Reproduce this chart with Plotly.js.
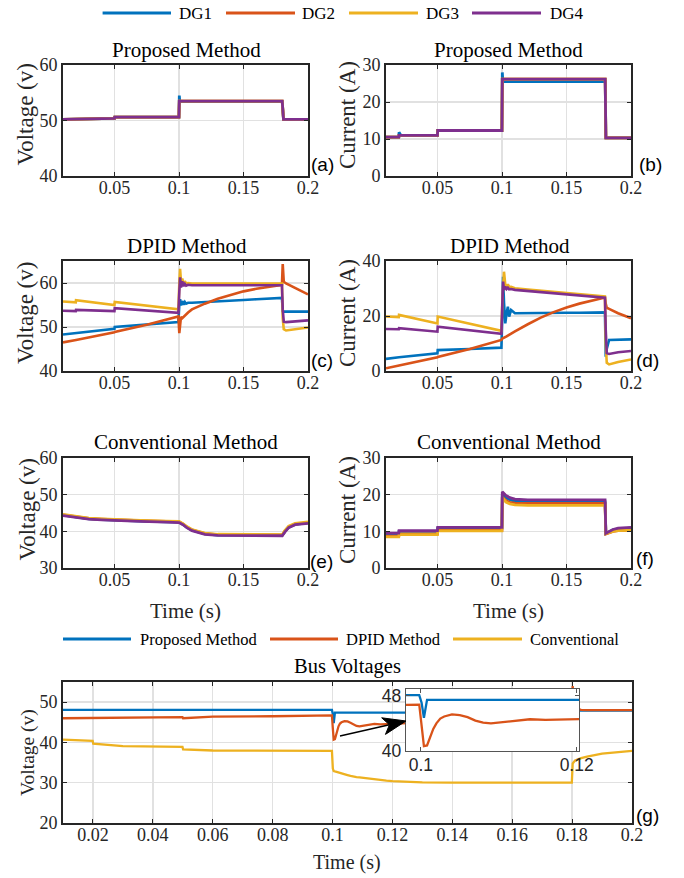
<!DOCTYPE html>
<html><head><meta charset="utf-8">
<script src="https://cdn.plot.ly/plotly-3.0.1.min.js"></script>
<style>html,body{margin:0;padding:0;background:#fff;} #chart{width:684px;height:878px;}</style>
</head><body><div id="chart"></div>
<script>
// ---------- DATA ----------
const dgNames = ['DG1', 'DG2', 'DG3', 'DG4'];
const busNames = ['Proposed Method', 'DPID Method', 'Conventional'];

// (a) Proposed method - voltage
const tA = [0.01, 0.0499, 0.0501, 0.0999, 0.1002, 0.1006, 0.101, 0.18, 0.181, 0.2];
const aDG1 = [50.2, 50.4, 50.6, 50.6, 54.5, 53.3, 53.4, 53.4, 50.2, 50.2];
const aDG2 = [50.2, 50.4, 50.6, 50.6, 53.5, 53.5, 53.5, 53.5, 50.2, 50.2];
const aDG3 = [50.2, 50.4, 50.6, 50.6, 53.5, 53.5, 53.5, 53.5, 50.2, 50.2];
const aDG4 = [50.2, 50.4, 50.6, 50.6, 53.5, 53.5, 53.5, 53.5, 50.2, 50.2];

// (b) Proposed method - current
const tB = [0.01, 0.0199, 0.0201, 0.0215, 0.0499, 0.0501, 0.0999, 0.1002, 0.1006, 0.101, 0.18, 0.1805, 0.2];
const bDG1 = [10.5, 10.5, 11.8, 11.0, 11.0, 12.3, 12.3, 28.0, 25.6, 25.5, 25.5, 10.3, 10.3];
const bDG2 = [10.5, 10.5, 11.0, 11.0, 11.0, 12.3, 12.3, 26.2, 26.2, 26.2, 26.2, 10.3, 10.3];
const bDG3 = [10.5, 10.5, 11.0, 11.0, 11.0, 12.3, 12.3, 26.2, 26.2, 26.2, 26.2, 10.3, 10.3];
const bDG4 = [10.5, 10.5, 11.0, 11.0, 11.0, 12.3, 12.3, 26.2, 26.2, 26.2, 26.2, 10.3, 10.3];

// (c) DPID method - voltage
const tC = [0.01, 0.0199, 0.0201, 0.0499, 0.0501, 0.075, 0.0995, 0.1002, 0.1008, 0.1015, 0.1025, 0.1035, 0.1045, 0.1055, 0.107, 0.11, 0.12, 0.13, 0.14, 0.15, 0.16, 0.17, 0.1798, 0.1804, 0.1812, 0.183, 0.19, 0.2];
const cDG1 = [48.3, 48.6, 48.7, 49.6, 50.0, 50.5, 51.1, 55.0, 56.3, 54.9, 55.9, 55.1, 55.7, 55.3, 55.5, 55.5, 55.7, 55.85, 56.0, 56.15, 56.3, 56.45, 56.6, 53.6, 53.5, 53.5, 53.5, 53.5];
const cDG2 = [46.5, 47.0, 47.05, 48.8, 48.85, 50.5, 52.4, 48.6, 50.5, 52.3, 52.0, 52.3, 52.6, 52.9, 53.3, 54.0, 55.3, 56.4, 57.3, 58.1, 58.7, 59.2, 59.6, 64.3, 60.3, 59.9, 58.8, 57.4];
const cDG3 = [55.8, 55.6, 56.1, 55.0, 55.7, 54.9, 54.0, 60.0, 63.2, 60.3, 61.0, 59.8, 60.4, 59.9, 60.0, 59.9, 59.9, 59.9, 59.9, 59.9, 59.9, 59.9, 59.9, 52.0, 49.5, 49.2, 49.5, 49.9];
const cDG4 = [53.7, 53.6, 53.9, 53.6, 54.3, 53.8, 53.2, 58.0, 61.3, 59.0, 60.4, 59.3, 59.8, 59.4, 59.6, 59.5, 59.5, 59.5, 59.5, 59.5, 59.5, 59.5, 59.5, 54.0, 51.2, 51.1, 51.3, 51.5];

// (d) DPID method - current
const tD = [0.01, 0.0199, 0.0201, 0.0499, 0.0501, 0.075, 0.0995, 0.1002, 0.1008, 0.1015, 0.1025, 0.1035, 0.1045, 0.1055, 0.107, 0.11, 0.12, 0.13, 0.14, 0.15, 0.16, 0.17, 0.1798, 0.1804, 0.1812, 0.183, 0.19, 0.2];
const dDG1 = [4.4, 4.8, 5.0, 6.4, 7.6, 8.0, 8.5, 20.0, 34.3, 25.0, 17.3, 21.0, 23.4, 19.8, 22.2, 21.0, 21.1, 21.1, 21.2, 21.2, 21.2, 21.3, 21.3, 5.2, 8.0, 11.3, 11.4, 11.5];
const dDG2 = [1.0, 1.9, 2.0, 5.0, 5.1, 8.0, 11.3, 11.8, 12.0, 12.1, 12.3, 12.6, 12.9, 13.2, 13.6, 14.4, 17.0, 19.4, 21.4, 23.1, 24.5, 25.7, 26.7, 24.5, 23.0, 22.6, 21.0, 19.2];
const dDG3 = [19.8, 19.6, 20.4, 17.3, 19.8, 17.1, 14.6, 25.0, 34.0, 36.1, 31.3, 30.6, 31.5, 30.5, 30.6, 30.1, 29.6, 29.2, 28.8, 28.4, 28.0, 27.5, 27.1, 10.0, 3.0, 2.4, 3.3, 4.2];
const dDG4 = [15.3, 15.2, 15.6, 14.3, 16.1, 14.8, 13.5, 24.0, 32.5, 29.5, 30.7, 29.8, 30.3, 29.7, 29.8, 29.5, 29.1, 28.7, 28.3, 27.9, 27.5, 27.1, 26.7, 15.0, 6.5, 6.2, 6.8, 7.3];

// (e) Conventional method - voltage
const tE = [0.01, 0.02, 0.03, 0.04, 0.05, 0.07, 0.09, 0.1, 0.103, 0.106, 0.11, 0.115, 0.12, 0.13, 0.15, 0.18, 0.182, 0.185, 0.19, 0.195, 0.2];
const eDG1 = [44.4, 43.8, 43.4, 43.2, 43.0, 42.8, 42.6, 42.5, 41.9, 41.1, 40.3, 39.7, 39.3, 39.0, 38.9, 38.9, 39.9, 41.1, 41.9, 42.2, 42.3];
const eDG2 = [44.5, 43.9, 43.5, 43.3, 43.1, 42.9, 42.7, 42.6, 42.0, 41.2, 40.4, 39.8, 39.4, 39.1, 39.0, 39.0, 40.0, 41.2, 42.0, 42.3, 42.4];
const eDG3 = [44.6, 44.0, 43.6, 43.4, 43.2, 43.0, 42.8, 42.7, 42.1, 41.3, 40.5, 39.9, 39.5, 39.2, 39.1, 39.1, 40.2, 41.4, 42.2, 42.5, 42.6];
const eDG4 = [44.3, 43.7, 43.3, 43.1, 42.9, 42.7, 42.5, 42.4, 41.8, 41.0, 40.2, 39.6, 39.2, 38.9, 38.8, 38.8, 39.8, 41.0, 41.8, 42.1, 42.2];

// (f) Conventional method - current
const tF = [0.01, 0.0199, 0.0201, 0.0499, 0.0501, 0.0999, 0.1002, 0.103, 0.106, 0.11, 0.12, 0.15, 0.1799, 0.1805, 0.183, 0.186, 0.19, 0.2];
const fDG1 = [9.3, 9.3, 10.0, 10.0, 10.9, 10.9, 20.2, 19.2, 18.6, 18.2, 18.0, 18.0, 18.0, 9.4, 9.9, 10.4, 10.7, 10.9];
const fDG2 = [8.7, 8.7, 9.3, 9.3, 10.3, 10.3, 19.4, 18.4, 17.9, 17.7, 17.6, 17.6, 17.6, 9.3, 9.7, 10.0, 10.2, 10.3];
const fDG3 = [8.5, 8.5, 9.1, 9.1, 10.1, 10.1, 19.2, 18.0, 17.5, 17.2, 17.1, 17.1, 17.1, 9.4, 9.7, 10.0, 10.2, 10.3];
const fDG4 = [9.5, 9.5, 10.2, 10.2, 11.1, 11.1, 20.8, 19.8, 19.2, 18.8, 18.6, 18.6, 18.6, 9.5, 10.0, 10.5, 10.9, 11.1];

// (g) Bus voltages
const tG = [0.01, 0.0199, 0.0201, 0.03, 0.0499, 0.0501, 0.06, 0.08, 0.0998, 0.1001, 0.1004, 0.1008, 0.1012, 0.1016, 0.102, 0.1025, 0.103, 0.104, 0.105, 0.106, 0.107, 0.108, 0.109, 0.11, 0.112, 0.114, 0.116, 0.118, 0.12, 0.125, 0.13, 0.14, 0.15, 0.16, 0.17, 0.1799, 0.1802, 0.1806, 0.181, 0.183, 0.185, 0.19, 0.195, 0.2];
const gProposed = [48.1, 48.1, 48.1, 48.1, 48.1, 48.0, 48.1, 48.1, 48.1, 47.0, 44.8, 47.4, 47.4, 47.4, 47.4, 47.4, 47.4, 47.4, 47.4, 47.4, 47.4, 47.4, 47.4, 47.4, 47.4, 47.4, 47.4, 47.4, 47.4, 47.4, 47.4, 47.4, 47.4, 47.4, 47.4, 47.4, 48.3, 48.0, 47.9, 47.9, 47.9, 47.9, 47.9, 47.9];
const gDPID = [46.0, 46.1, 46.1, 46.2, 46.3, 46.0, 46.4, 46.5, 46.7, 43.5, 40.7, 40.8, 42.1, 43.2, 44.0, 44.7, 45.0, 45.3, 45.2, 44.9, 44.4, 44.1, 44.0, 44.1, 44.4, 44.6, 44.5, 44.6, 44.7, 44.8, 45.0, 45.3, 45.6, 45.9, 46.1, 46.3, 54.0, 50.0, 48.5, 48.1, 48.0, 48.0, 48.0, 48.0];
const gConventional = [40.7, 40.4, 39.7, 39.1, 38.9, 38.3, 38.0, 37.9, 37.9, 33.5, 32.9, 32.8, 32.7, 32.6, 32.5, 32.4, 32.3, 32.1, 31.9, 31.7, 31.5, 31.4, 31.3, 31.2, 31.0, 30.8, 30.6, 30.5, 30.4, 30.2, 30.1, 30.0, 30.0, 30.0, 30.0, 30.0, 34.8, 35.2, 35.5, 36.1, 36.5, 37.2, 37.6, 37.9];

// tick labels
const dgTickVals = [0.05, 0.1, 0.15, 0.2];
const dgTickText = ['0.05', '0.1', '0.15', '0.2'];
const busTickVals = [0.02, 0.04, 0.06, 0.08, 0.1, 0.12, 0.14, 0.16, 0.18, 0.2];
const busTickText = ['0.02', '0.04', '0.06', '0.08', '0.1', '0.12', '0.14', '0.16', '0.18', '0.2'];
const insetTickVals = [0.1, 0.12];
const insetTickText = ['0.1', '0.12'];

// ---------- STYLE ----------
const W = 684, H = 878;
const COLORS = ['#0072BD', '#D95319', '#EDB120', '#7E2F8E'];
const SERIF = 'Liberation Serif, Times New Roman, serif';
const SANS = 'Liberation Sans, Arial, sans-serif';
const px = v => v / W;
const py = v => 1 - v / H;

const traces = [];
function addLines(t, series, xa, ya, width) {
  series.forEach((s, i) => {
    traces.push({ x: t, y: s, type: 'scatter', mode: 'lines', xaxis: xa, yaxis: ya,
      line: { color: COLORS[i], width: width }, showlegend: false, hoverinfo: 'skip' });
  });
}
addLines(tA, [aDG1, aDG2, aDG3, aDG4], 'x', 'y', 2.8);
addLines(tB, [bDG1, bDG2, bDG3, bDG4], 'x2', 'y2', 2.8);
addLines(tC, [cDG1, cDG2, cDG3, cDG4], 'x3', 'y3', 2.6);
addLines(tD, [dDG1, dDG2, dDG3, dDG4], 'x4', 'y4', 2.6);
addLines(tE, [eDG1, eDG2, eDG3, eDG4], 'x5', 'y5', 2.8);
addLines(tF, [fDG1, fDG2, fDG3, fDG4], 'x6', 'y6', 2.8);
addLines(tG, [gProposed, gDPID, gConventional], 'x7', 'y7', 2.3);
addLines(tG, [gProposed, gDPID], 'x8', 'y8', 2.3);

function axisBase(extra) {
  return Object.assign({ showline: true, mirror: 'ticks', linecolor: '#262626', linewidth: 2, ticks: 'inside', ticklen: 4,
    tickcolor: '#262626', showgrid: true, gridcolor: '#e1e1e1', gridwidth: 1.5, zeroline: false,
    tickfont: { family: SERIF, size: 18, color: '#262626' }, fixedrange: true }, extra || {});
}
function xAxis(dom, anchor, range, vals, text, extra) {
  return axisBase(Object.assign({ domain: dom, anchor: anchor, range: range, tickvals: vals, ticktext: text,
    ticklabelstandoff: -6 }, extra || {}));
}
function yAxis(dom, anchor, range, vals, extra) {
  return axisBase(Object.assign({ domain: dom, anchor: anchor, range: range, tickvals: vals }, extra || {}));
}

const colL = [px(63), px(308)], colR = [px(386), px(631)];
const row1 = [py(176), py(65)], row2 = [py(371), py(261)], row3 = [py(568), py(458)];
const xr = [0.01, 0.2];
const insetStyle = { showgrid: false, linecolor: '#555555', linewidth: 1.3, tickcolor: '#555555',
  tickfont: { family: SANS, size: 17.5, color: '#262626' } };

const layout = {
  width: W, height: H, margin: { l: 0, r: 0, t: 0, b: 0 },
  paper_bgcolor: '#ffffff', plot_bgcolor: '#ffffff', showlegend: false,
  xaxis: xAxis(colL, 'y', xr, dgTickVals, dgTickText),
  yaxis: yAxis(row1, 'x', [40, 60], [40, 50, 60]),
  xaxis2: xAxis(colR, 'y2', xr, dgTickVals, dgTickText),
  yaxis2: yAxis(row1, 'x2', [0, 30], [0, 10, 20, 30]),
  xaxis3: xAxis(colL, 'y3', xr, dgTickVals, dgTickText),
  yaxis3: yAxis(row2, 'x3', [40, 65], [40, 50, 60]),
  xaxis4: xAxis(colR, 'y4', xr, dgTickVals, dgTickText),
  yaxis4: yAxis(row2, 'x4', [0, 40], [0, 20, 40]),
  xaxis5: xAxis(colL, 'y5', xr, dgTickVals, dgTickText),
  yaxis5: yAxis(row3, 'x5', [30, 60], [30, 40, 50, 60]),
  xaxis6: xAxis(colR, 'y6', xr, dgTickVals, dgTickText),
  yaxis6: yAxis(row3, 'x6', [0, 30], [0, 10, 20, 30]),
  xaxis7: xAxis([px(63), px(632)], 'y7', xr, busTickVals, busTickText),
  yaxis7: yAxis([py(823), py(682)], 'x7', [20, 55], [20, 30, 40, 50]),
  xaxis8: xAxis([px(406), px(579)], 'y8', [0.0981, 0.1203], insetTickVals, insetTickText,
    Object.assign({ ticklabelstandoff: -2 }, insetStyle)),
  yaxis8: yAxis([py(751), py(689)], 'x8', [40, 48.98], [40, 48], insetStyle),
  shapes: [],
  annotations: []
};

function txt(text, x, y, size, family, extra) {
  layout.annotations.push(Object.assign({ text: text, x: px(x), y: py(y), xref: 'paper', yref: 'paper',
    xanchor: 'center', yanchor: 'middle', showarrow: false,
    font: { family: family || SERIF, size: size, color: '#000000' } }, extra || {}));
}
function vtitle(text, x, y, size) {
  txt(text, x, y, size, SERIF, { textangle: -90, font: { family: SERIF, size: size, color: '#262626' } });
}
function htitle(text, x, y, size) {
  txt(text, x, y, size, SERIF, { font: { family: SERIF, size: size, color: '#262626' } });
}

// subplot titles
txt('Proposed Method', 186, 50, 21);
txt('Proposed Method', 508, 50, 21);
txt('DPID Method', 187, 246, 21);
txt('DPID Method', 509.5, 246, 21);
txt('Conventional Method', 186, 442, 21);
txt('Conventional Method', 508.7, 442, 21);
txt('Bus Voltages', 347, 666, 20.5);

// axis titles
vtitle('Voltage (v)', 24.5, 115, 23);
vtitle('Current (A)', 347, 115, 23);
vtitle('Voltage (v)', 25, 313, 23);
vtitle('Current (A)', 347, 313, 23);
vtitle('Voltage (v)', 26.5, 510, 23);
vtitle('Current (A)', 347, 510, 23);
vtitle('Voltage (v)', 28, 753, 19.5);
htitle('Time (s)', 185, 611, 21);
htitle('Time (s)', 508, 611, 21);
htitle('Time (s)', 347, 862, 20);

// panel letters
txt('(a)', 322, 164, 19, SANS);
txt('(b)', 650, 165, 19, SANS);
txt('(c)', 322, 360, 19, SANS);
txt('(d)', 647.5, 360, 19, SANS);
txt('(e)', 321, 561, 19, SANS);
txt('(f)', 645, 558, 19, SANS);
txt('(g)', 647, 815, 19, SANS);

// legends (drawn manually for MATLAB-style long keys)
const topLeg = [[102.6, 171, 177], [226, 295, 300], [349, 418, 424], [472, 541, 548]];
topLeg.forEach((p, i) => {
  layout.shapes.push({ type: 'line', xref: 'paper', yref: 'paper', x0: px(p[0]), x1: px(p[1]), y0: py(13), y1: py(13),
    line: { color: COLORS[i], width: 2.8 } });
  txt(dgNames[i], p[2], 13, 17, SERIF, { xanchor: 'left' });
});
const botLeg = [[63, 131, 137.5], [270, 338, 343.7], [453, 522, 527.5]];
botLeg.forEach((p, i) => {
  layout.shapes.push({ type: 'line', xref: 'paper', yref: 'paper', x0: px(p[0]), x1: px(p[1]), y0: py(639), y1: py(639),
    line: { color: COLORS[i], width: 2.8 } });
  txt(busNames[i], p[2], 639, 16.5, SERIF, { xanchor: 'left' });
});

// zoom arrow pointing at the inset (paper-pixel geometry)
const arrTail = [340, 736], arrTip = [406, 721];
(function () {
  const dx = arrTip[0] - arrTail[0], dy = arrTip[1] - arrTail[1];
  const L = Math.hypot(dx, dy), ux = dx / L, uy = dy / L, nx = -uy, ny = ux;
  const hl = 23, hw = 8.5, notch = 17;
  const bx = arrTip[0] - hl * ux, by = arrTip[1] - hl * uy;
  const p1 = [bx + hw * nx, by + hw * ny], p2 = [bx - hw * nx, by - hw * ny];
  const nn = [arrTip[0] - notch * ux, arrTip[1] - notch * uy];
  const P = p => px(p[0]).toFixed(5) + ',' + py(p[1]).toFixed(5);
  layout.shapes.push({ type: 'line', xref: 'paper', yref: 'paper', x0: px(arrTail[0]), y0: py(arrTail[1]),
    x1: px(nn[0]), y1: py(nn[1]), line: { color: '#000000', width: 1.4 } });
  layout.shapes.push({ type: 'path', xref: 'paper', yref: 'paper',
    path: 'M' + P(arrTip) + 'L' + P(p1) + 'L' + P(nn) + 'L' + P(p2) + 'Z',
    fillcolor: '#000000', line: { color: '#000000', width: 1 } });
})();

Plotly.newPlot('chart', traces, layout, { staticPlot: true, displayModeBar: false });
</script></body></html>
